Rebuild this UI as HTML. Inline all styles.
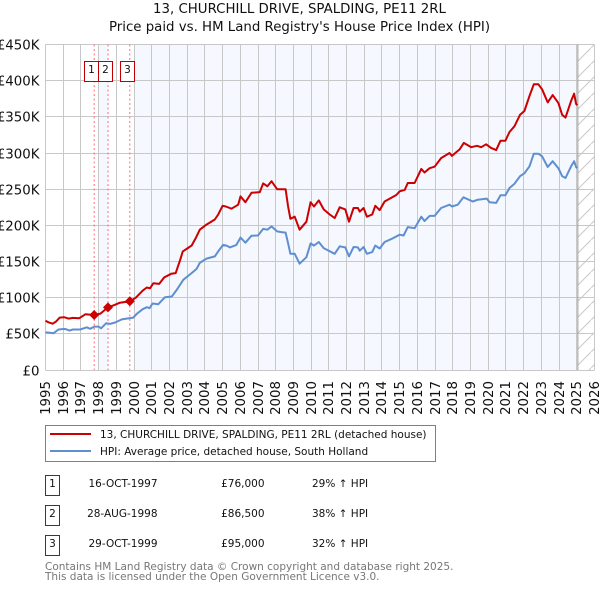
<!DOCTYPE html>
<html lang="en">
<head>
<meta charset="utf-8">
<title>13, Churchill Drive price chart</title>
<style>
html,body{margin:0;padding:0;background:#fff;}
svg{display:block;font-family:"DejaVu Sans","Liberation Sans",sans-serif;}
</style>
</head>
<body>
<svg id="root" xmlns="http://www.w3.org/2000/svg" width="600" height="590" viewBox="0 0 600 590">
  <defs>
    <pattern id="hatch" patternUnits="userSpaceOnUse" width="16" height="16" patternTransform="translate(-1,0)">
      <line x1="0" y1="16" x2="16" y2="0" stroke="#c8c8c8" stroke-width="1"/>
    </pattern>
  </defs>
  <g id="plot"></g>
  <text x="299.5" y="13" font-size="13.33" text-anchor="middle" fill="#111">13, CHURCHILL DRIVE, SPALDING, PE11 2RL</text>
  <text x="299.5" y="31" font-size="13.33" text-anchor="middle" fill="#111">Price paid vs. HM Land Registry's House Price Index (HPI)</text>

  <g>
    <rect x="45.5" y="425.5" width="390" height="36" fill="#fff" stroke="#808080" stroke-width="1"/>
    <line x1="50" y1="434" x2="91" y2="434" stroke="#cc0000" stroke-width="2"/>
    <line x1="50" y1="451" x2="91" y2="451" stroke="#5f8fd0" stroke-width="2"/>
    <text x="100" y="438" font-size="10.5" fill="#111">13, CHURCHILL DRIVE, SPALDING, PE11 2RL (detached house)</text>
    <text x="100" y="455" font-size="10.5" fill="#111">HPI: Average price, detached house, South Holland</text>
  </g>

  <g font-size="10.5" fill="#111">
    <g>
      <rect x="45.5" y="475.5" width="14" height="20" fill="#fff" stroke="#c00000"/>
      <text x="52.5" y="487" text-anchor="middle">1</text>
      <text x="157.5" y="487" text-anchor="end">16-OCT-1997</text>
      <text x="264.5" y="487" text-anchor="end">£76,000</text>
      <text x="312" y="487">29% ↑ HPI</text>
    </g>
    <g>
      <rect x="45.5" y="505.5" width="14" height="20" fill="#fff" stroke="#c00000"/>
      <text x="52.5" y="517" text-anchor="middle">2</text>
      <text x="157.5" y="517" text-anchor="end">28-AUG-1998</text>
      <text x="264.5" y="517" text-anchor="end">£86,500</text>
      <text x="312" y="517">38% ↑ HPI</text>
    </g>
    <g>
      <rect x="45.5" y="535.5" width="14" height="20" fill="#fff" stroke="#c00000"/>
      <text x="52.5" y="547" text-anchor="middle">3</text>
      <text x="157.5" y="547" text-anchor="end">29-OCT-1999</text>
      <text x="264.5" y="547" text-anchor="end">£95,000</text>
      <text x="312" y="547">32% ↑ HPI</text>
    </g>
  </g>

  <text x="45" y="570" font-size="10.5" fill="#777">Contains HM Land Registry data © Crown copyright and database right 2025.</text>
  <text x="45" y="580" font-size="10.5" fill="#777">This data is licensed under the Open Government Licence v3.0.</text>
</svg>
<script>
const yearTicks = [1995,1996,1997,1998,1999,2000,2001,2002,2003,2004,2005,2006,2007,2008,2009,2010,2011,2012,2013,2014,2015,2016,2017,2018,2019,2020,2021,2022,2023,2024,2025,2026];
const priceTicks = [0,50,100,150,200,250,300,350,400,450];
const priceTickLabels = ['£0','£50K','£100K','£150K','£200K','£250K','£300K','£350K','£400K','£450K'];

const paidDates = [1995,1995.17,1995.4,1995.6,1995.8,1996.05,1996.3,1996.55,1996.9,1997.25,1997.75,1998.1,1998.53,1998.9,1999.2,1999.76,2000.1,2000.5,2000.72,2000.9,2001.09,2001.42,2001.7,2002.1,2002.35,2002.6,2002.75,2003.0,2003.25,2003.5,2003.71,2004.09,2004.56,2004.75,2005.0,2005.18,2005.5,2005.88,2006.01,2006.29,2006.63,2007.1,2007.29,2007.53,2007.76,2008.08,2008.56,2008.7,2008.83,2009.07,2009.35,2009.73,2009.97,2010.16,2010.43,2010.71,2011.05,2011.33,2011.61,2011.93,2012.14,2012.4,2012.64,2012.74,2012.96,2013.15,2013.45,2013.62,2013.87,2014.15,2014.81,2015.0,2015.28,2015.46,2015.84,2016.22,2016.4,2016.69,2016.97,2017.34,2017.81,2017.95,2018.38,2018.62,2019.04,2019.36,2019.6,2019.88,2020.16,2020.45,2020.69,2020.97,2021.2,2021.48,2021.8,2022.04,2022.33,2022.57,2022.83,2023.04,2023.36,2023.64,2023.96,2024.17,2024.36,2024.68,2024.85,2024.96,2025.02];
const paidValues = [68,66,64,67,72.5,73,71,72,71.5,77,76,78,86.5,90,93,95,100,110,114,113,120,119,128,133,134,152,164,168,172,183,194,201,208,215,227,226,223,228.5,240,232,245,246,258,254,261,250,250,226,209,212,194,205,232,226,234.5,222,215,210,225,222,205,224,224,219,224,212,215,227,221,233,242,247,249,258.5,258.5,278,273,279,281,293,300,296,305,314,308,310,308,312,307,304,317,317,329,337,353,358,379,395,395,388,370,380,369,353,349,372,382,368,366];

const hpiDates = [1995,1995.17,1995.45,1995.73,1996.11,1996.35,1996.54,1996.96,1997.33,1997.52,1997.76,1997.99,1998.14,1998.42,1998.65,1998.93,1999.31,1999.74,1999.96,2000.15,2000.49,2000.72,2000.87,2001.05,2001.37,2001.75,2002.13,2002.41,2002.78,2003.25,2003.54,2003.71,2004.09,2004.56,2004.75,2005.03,2005.22,2005.41,2005.78,2006.01,2006.29,2006.63,2007.0,2007.29,2007.53,2007.76,2008.08,2008.32,2008.56,2008.7,2008.83,2009.07,2009.35,2009.73,2009.97,2010.16,2010.43,2010.71,2011.33,2011.61,2011.93,2012.14,2012.4,2012.64,2012.74,2012.96,2013.15,2013.45,2013.62,2013.87,2014.15,2014.52,2015.0,2015.22,2015.46,2015.84,2016.22,2016.4,2016.69,2016.97,2017.34,2017.81,2017.95,2018.28,2018.6,2019.13,2019.41,2019.92,2020.07,2020.45,2020.69,2020.97,2021.2,2021.48,2021.8,2022.04,2022.33,2022.57,2022.83,2023.04,2023.36,2023.64,2023.96,2024.17,2024.36,2024.68,2024.85,2024.96,2025.02];
const hpiValues = [52,51.7,50.8,56,56.8,54.5,56,56,59,57,60,60,57.7,64.6,63.7,65.6,70,71.6,72.5,77.6,84,86.8,85.4,92,91,100.6,101.6,110.8,124.7,134,140,148,154,157,164,173,172,169.5,173,183,176,185.6,186,195,194,198.5,191.6,190.7,190,175,160.7,160.7,147,156,175,172,177,168.5,160.7,171,169.5,157,170,169.5,165,170,160.7,163,172,168,177,181,187,186,197.6,196,212,206,213,213,224,228.5,226,228.5,238.7,233,235.5,237,232,231,241.5,241.5,251.6,257.6,268,272,281.6,299,299,295.5,280.7,288.6,279,268,265.5,281.6,288.6,280.7,279];

const saleDates = [1997.75,1998.53,1999.76];
const salePrices = [76,86.5,95];
const saleNumbers = ['1','2','3'];

const shadeStarts = [1998,2000];
const shadeEnds = [1998.55,2025];
const dataEndYear = 2025.06;

const NS = 'http://www.w3.org/2000/svg';
const plotLeft = 45.5, plotRight = 594.5, plotTop = 44.5, plotBottom = 370;
const xScale = function (year) { return plotLeft + (year - 1995) * (plotRight - plotLeft) / 31; };
const yScale = function (k) { return plotBottom - k * (plotBottom - plotTop) / 450; };
const plot = document.getElementById('plot');

function make(tag, attrs, text) {
  const el = document.createElementNS(NS, tag);
  for (const k in attrs) el.setAttribute(k, attrs[k]);
  if (text !== undefined) el.textContent = text;
  plot.appendChild(el);
  return el;
}

shadeStarts.forEach(function (start, i) {
  const el = make('rect', {x: xScale(start), y: plotTop, width: xScale(shadeEnds[i]) - xScale(start), height: plotBottom - plotTop, fill: '#f5f8ff'});
  
  
});

const hatchEl = make('rect', {x: xScale(dataEndYear), y: plotTop, width: plotRight - xScale(dataEndYear), height: plotBottom - plotTop, fill: 'url(#hatch)'});



yearTicks.forEach(function (year) {
  const gx = Math.round(xScale(year) - 0.5) + 0.5;
  const grid = make('line', {x1: gx, x2: gx, y1: plotTop, y2: plotBottom, stroke: '#c8c8c8', 'stroke-width': 1});
  
  
  const label = make('text', {transform: 'translate(' + (gx + 4.5) + ',381) rotate(-90)', 'font-size': 13.33, 'text-anchor': 'end', fill: '#111'}, String(year));
  
  
});

priceTicks.forEach(function (k, i) {
  const gy = Math.round(yScale(k) - 0.5) + 0.5;
  const grid = make('line', {x1: plotLeft, x2: plotRight, y1: gy, y2: gy, stroke: '#c8c8c8', 'stroke-width': 1});
  
  
  const label = make('text', {x: 39.5, y: gy + 5, 'font-size': 13.33, 'text-anchor': 'end', fill: '#111'}, priceTickLabels[i]);
  
  
});

const endLine = make('line', {x1: xScale(dataEndYear), x2: xScale(dataEndYear), y1: plotTop, y2: plotBottom, stroke: '#999', 'stroke-width': 1});



saleDates.forEach(function (d) {
  const vline = make('line', {x1: xScale(d), x2: xScale(d), y1: plotTop, y2: plotBottom, stroke: '#ff6b7a', 'stroke-width': 1, 'stroke-dasharray': '2 2.5'});
  
  
});

function seriesPoints(dates, values) {
  return dates.map(function (d, i) { return xScale(d).toFixed(1) + ',' + yScale(values[i]).toFixed(1); }).join(' ');
}

const hpiLine = make('polyline', {points: seriesPoints(hpiDates, hpiValues), fill: 'none', stroke: '#5f8fd0', 'stroke-width': 2, 'stroke-linejoin': 'round'});



const paidLine = make('polyline', {points: seriesPoints(paidDates, paidValues), fill: 'none', stroke: '#cc0000', 'stroke-width': 2, 'stroke-linejoin': 'round'});



saleDates.forEach(function (d, i) {
  const sx = xScale(d), sy = yScale(salePrices[i]);
  const diamond = make('polygon', {points: [sx, sy - 5, sx + 5, sy, sx, sy + 5, sx - 5, sy].join(' '), fill: '#cc0000'});
  
  

  const bx = Math.round(sx - 3);
  const box = make('rect', {x: bx - 7 + 0.5, y: 61.5, width: 14, height: 20, fill: '#fff', stroke: '#c00000', 'stroke-width': 1});
  
  
  const num = make('text', {x: bx + 0.5, y: 73, 'font-size': 10.5, 'text-anchor': 'middle', fill: '#111'}, saleNumbers[i]);
  
  
});
</script>
</body>
</html>
